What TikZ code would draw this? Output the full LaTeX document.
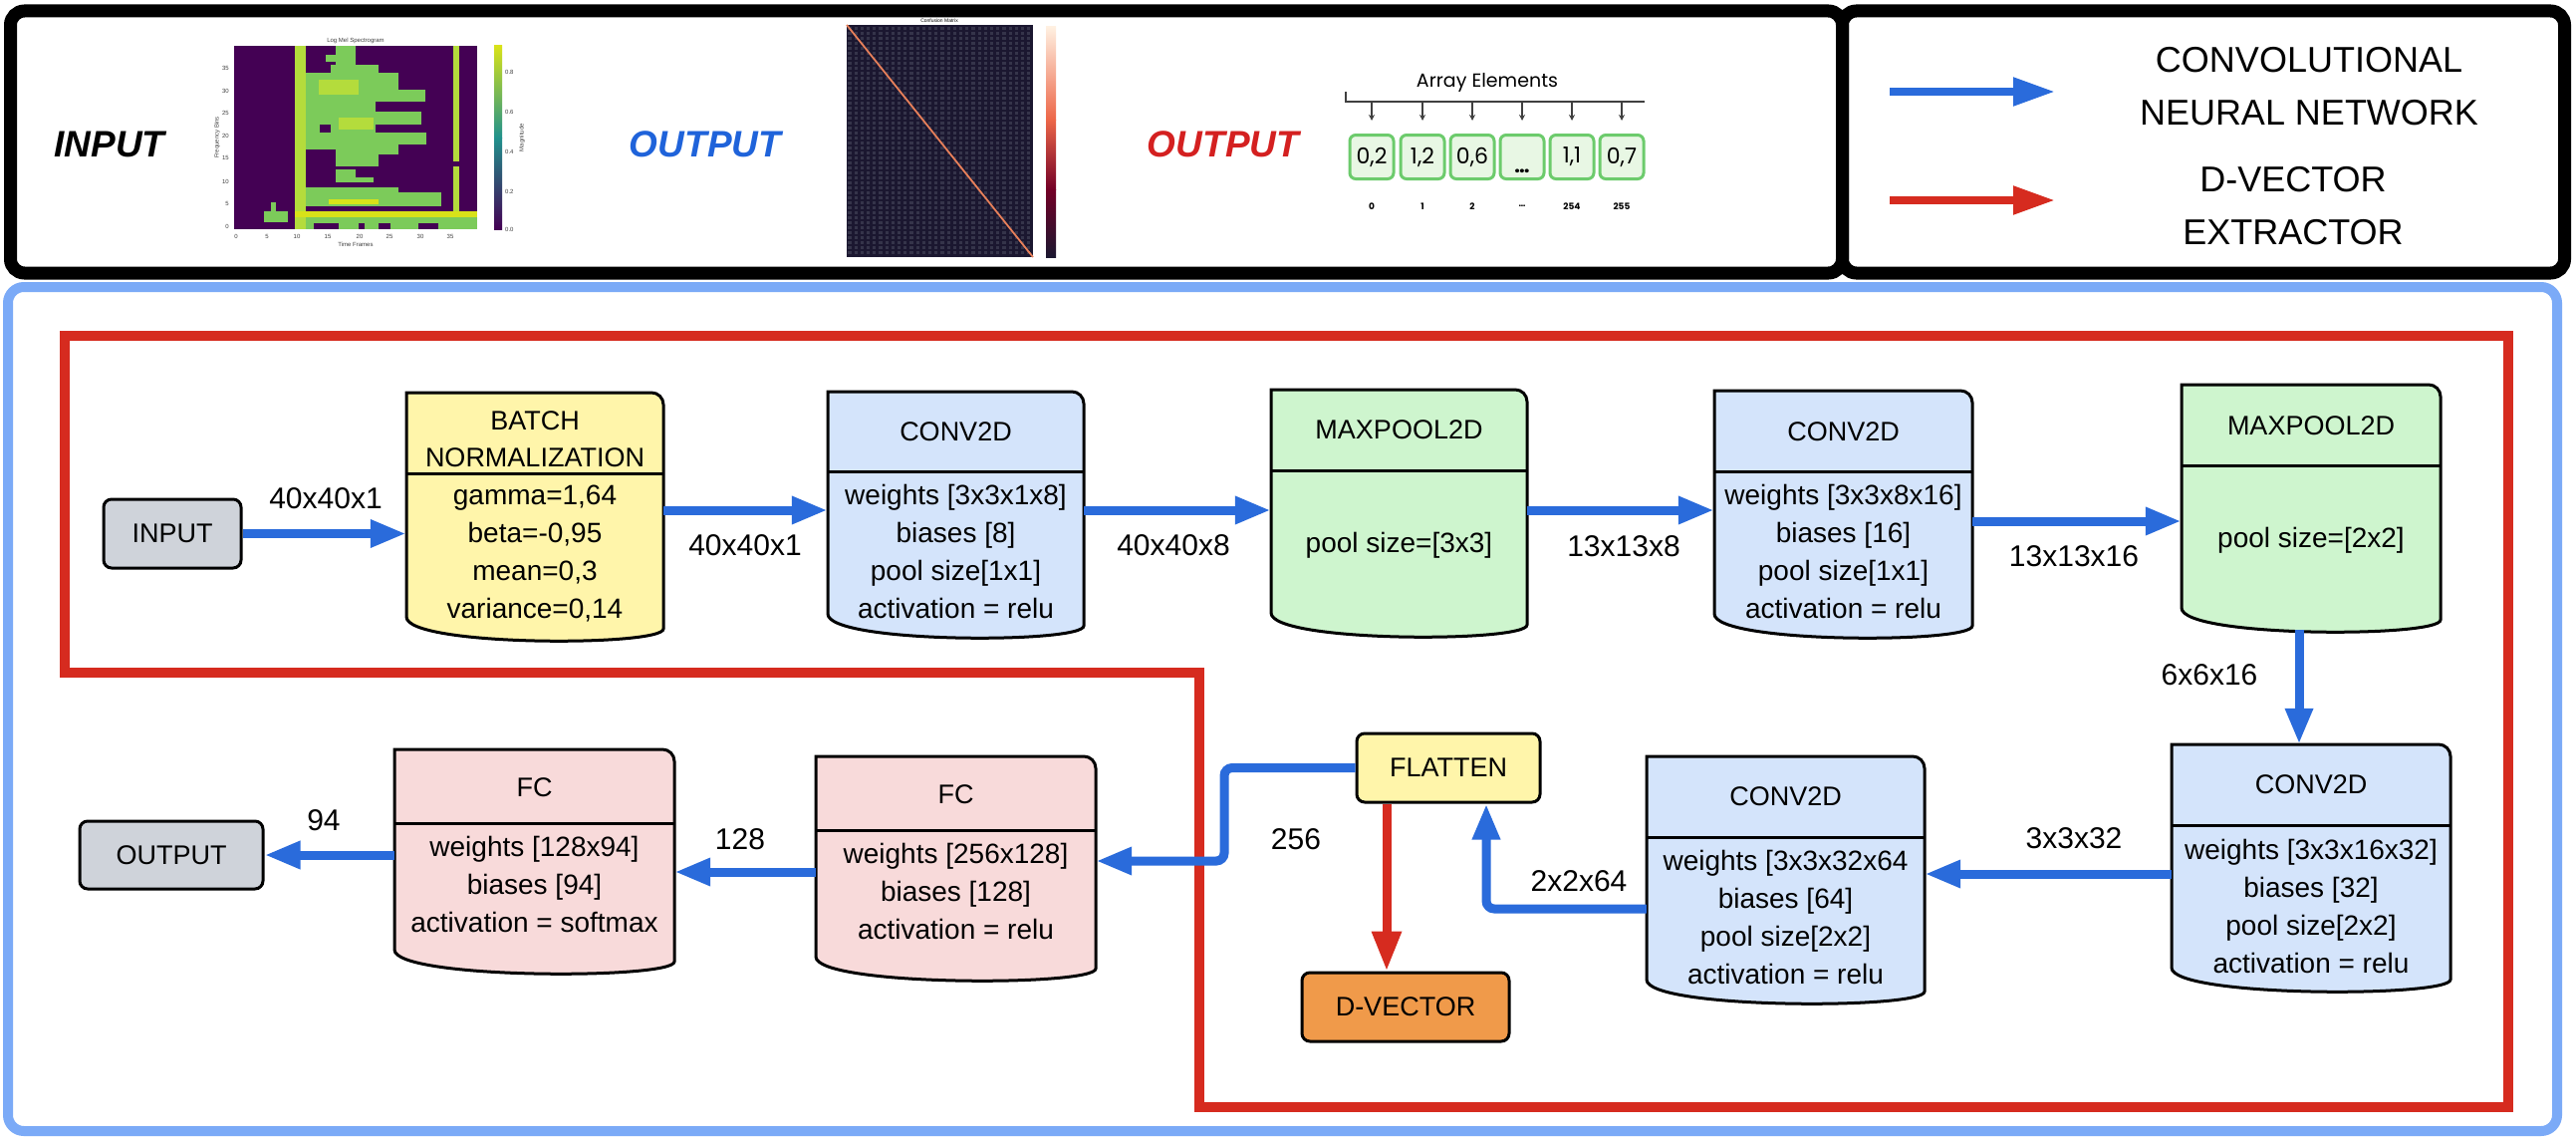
\documentclass[tikz,border=0pt]{standalone}
\usepackage{fontspec}
\setmainfont{Liberation Sans}
\newfontfamily\popfont{Poppins}
\usetikzlibrary{arrows.meta}
\definecolor{arrowblue}{HTML}{2A6BDB}
\definecolor{dred}{HTML}{D62B1F}
\definecolor{boxblue}{HTML}{7BAAF7}
\definecolor{grayfill}{HTML}{CFD3DA}
\definecolor{yellowfill}{HTML}{FFF5AA}
\definecolor{bluefill}{HTML}{D4E4FB}
\definecolor{greenfill}{HTML}{CEF5CE}
\definecolor{pinkfill}{HTML}{F8DADA}
\definecolor{orangefill}{HTML}{F09A4A}
\definecolor{vdark}{HTML}{440154}
\definecolor{vteal}{HTML}{21918C}
\definecolor{vgreen}{HTML}{7CCB5A}
\definecolor{vlg}{HTML}{B4DC3C}
\definecolor{vyel}{HTML}{D8E219}
\definecolor{cmdark}{HTML}{1B1730}
\definecolor{cmgray}{HTML}{35344A}
\definecolor{cmorange}{HTML}{E8805A}
\definecolor{cellgreen}{HTML}{6CCB6C}
\definecolor{cellfill}{HTML}{E8F7E4}
\definecolor{outblue}{HTML}{1F63DA}
\definecolor{outred}{HTML}{D42020}
\newcommand\layershape[7]{%
  \path[draw=black,line width=3pt,fill=#7]
    ({(#2+#3)/2},#4) [rounded corners=12pt] -- (#3,#4) -- (#3,#6) [sharp corners] .. controls (#3,{#6+30}) and (#2,{#6+30}) .. (#2,#6) -- (#2,#4) [rounded corners=12pt] -- cycle;
  \draw[line width=3pt] (#2,#5) -- (#3,#5);
  \node[inner sep=0pt,minimum width={(#3-#2)*1pt},minimum height={(#6+22-#4)*1pt}] (#1) at ({(#2+#3)/2},{(#4+#6+22)/2}) {};
}
\begin{document}
\begin{tikzpicture}[x=1pt,y=-1pt,
  hd/.style={font=\fontsize{27}{37}\selectfont,align=center,inner sep=0pt},
  body/.style={font=\fontsize{28}{38}\selectfont,align=center,inner sep=0pt},
  lab/.style={font=\fontsize{30}{36}\selectfont,inner sep=0pt},
  simple/.style={draw=black,line width=3pt,rounded corners=8pt,inner sep=0pt,font=\fontsize{27}{32}\selectfont},
  barrow/.style={draw=arrowblue,line width=9pt,-{Triangle[length=36pt,width=26pt]}},
  rarrow/.style={draw=dred,line width=9pt,-{Triangle[length=40pt,width=28pt]}},
  legtxt/.style={font=\fontsize{36}{53}\selectfont,align=center,inner sep=0pt},
  comic/.style={font=\fontsize{37}{40}\selectfont\bfseries\itshape,inner sep=0pt},
  tiny/.style={font=\fontsize{6}{7}\selectfont,inner sep=0pt,text=black!75},
  cell/.style={draw=cellgreen,fill=cellfill,line width=3pt,rounded corners=6pt,minimum width=44pt,minimum height=44pt,inner sep=0pt,font=\popfont\fontsize{22}{24}\selectfont},
  idx/.style={font=\popfont\bfseries\fontsize{9}{10}\selectfont,inner sep=0pt}
]
\useasboundingbox (0,0) rectangle (2586,1148);
\fill[white] (0,0) rectangle (2586,1148);

% ---------- top panel ----------
\draw[line width=13pt,rounded corners=14pt] (10.5,11) rectangle (1849.5,274);
\draw[line width=13pt,rounded corners=14pt] (1849.5,11) rectangle (2574.5,274);

\node[comic] (tin) at (110,145) {INPUT};
\node[comic,text=outblue] (tout1) at (708,145) {OUTPUT};
\node[comic,text=outred] (tout2) at (1228,145) {OUTPUT};

% spectrogram
\fill[vdark] (235,46) rectangle (479,230);
\fill[vlg] (296,46) rectangle (307,230);
\fill[vlg] (455,46) rectangle (461,162);
\fill[vlg] (455,167) rectangle (461,230);
\fill[vgreen] (337,46) rectangle (357,65);
\fill[vgreen] (327,55) rectangle (337,62);
\fill[vgreen] (332,65) rectangle (380,73);
\fill[vgreen] (307,73) rectangle (400,90);
\fill[vgreen] (307,90) rectangle (427,102);
\fill[vgreen] (307,102) rectangle (377,112);
\fill[vgreen] (307,112) rectangle (423,125);
\fill[vgreen] (307,125) rectangle (377,133);
\fill[vdark] (321,125) rectangle (332,134);
\fill[vgreen] (307,133) rectangle (428,145);
\fill[vgreen] (307,145) rectangle (400,150);
\fill[vgreen] (337,150) rectangle (400,155);
\fill[vgreen] (337,155) rectangle (380,167);
\fill[vgreen] (337,170) rectangle (357,183);
\fill[vgreen] (357,178) rectangle (375,183);
\fill[vgreen] (307,188) rectangle (400,193);
\fill[vgreen] (307,193) rectangle (443,207);
\fill[vlg] (320,80) rectangle (360,95);
\fill[vlg] (340,118) rectangle (375,130);
\fill[vyel] (330,200) rectangle (380,205);
\fill[vyel] (296,212) rectangle (479,218);
\fill[vgreen] (307,218) rectangle (479,230);
\fill[vdark] (315,224) rectangle (340,230);
\fill[vdark] (360,224) rectangle (366,230);
\fill[vdark] (380,224) rectangle (392,230);
\fill[vdark] (420,224) rectangle (440,230);
\fill[vgreen] (272,203) rectangle (277,212);
\fill[vgreen] (265,212) rectangle (289,223);
\shade[top color=vyel,bottom color=vteal] (496,46) rectangle (504,138);
\shade[top color=vteal,bottom color=vdark] (496,138) rectangle (504,230);
\node[tiny] (sptitle) at (357,41) {Log Mel Spectrogram};
\node[tiny] (spx) at (357,245) {Time Frames};
\node[tiny,rotate=90] (spy) at (218,138) {Frequency Bins};
\node[tiny,rotate=90] (spc) at (524,138) {Magnitude};
\foreach \v/\xx in {0/237,5/268,10/298,15/329,20/361,25/391,30/422,35/452}
  \node[tiny] (sx\v) at (\xx,237) {\v};
\foreach \v/\yy in {0/227,5/204,10/182,15/158,20/136,25/113,30/91,35/68}
  \node[tiny,anchor=east] (sy\v) at (230,\yy) {\v};
\foreach \n/\v/\yy in {0/0.0/230,1/0.2/192,2/0.4/152,3/0.6/112,4/0.8/72}
  \node[tiny,anchor=west] (sc\n) at (507,\yy) {\v};

% confusion matrix
\fill[cmdark] (850,25) rectangle (1037,258);
\foreach \i in {0,...,29}
  \draw[cmgray,line width=3.2pt,dash pattern=on 3pt off 2pt] ({853+\i*6.2},27) -- ({853+\i*6.2},257);
\draw[cmorange,line width=1.8pt] (850,25) -- (1037,258);
\shade[top color=white!60!orange!30,bottom color=cmorange!80!red] (1050,27) rectangle (1060,120);
\shade[top color=cmorange!80!red,bottom color=purple!60!black] (1050,120) rectangle (1060,190);
\shade[top color=purple!60!black,bottom color=cmdark] (1050,190) rectangle (1060,258);
\node[font=\fontsize{5}{6}\selectfont,inner sep=0pt] (cmt) at (943,21) {Confusion Matrix};

% array elements
\node[font=\popfont\fontsize{19}{22}\selectfont,inner sep=0pt] (arrt) at (1493,83) {Array Elements};
\coordinate (al0) at (1351,92);
\coordinate (al1) at (1351,102);
\coordinate (al2) at (1651,102);
\draw[line width=2pt,black!75] (al0) -- (al1) -- (al2);
\foreach \i/\xx/\t in {0/1377/{0,2},1/1428/{1,2},2/1478/{0,6},3/1528/{},4/1578/{1,1},5/1628/{0,7}}{
  \node[cell] (a\i) at (\xx,157.5) {\t};
  \draw[line width=1.5pt,black!75,-{Stealth[length=6pt,width=6pt]}] (a\i.north |- al1) -- ([yshift=13pt]a\i.north);
}
\node[font=\popfont\bfseries\fontsize{20}{22}\selectfont,inner sep=0pt] (adots) at (1528,172) {\ldots};
\foreach \i/\t in {0/0,1/1,2/2,3/\ldots,4/254,5/255}
  \node[idx] (ai\i) at (a\i.south |- 0,207) {\t};

% legend
\coordinate (lb1) at (1897,92);
\coordinate (lb2) at (2063,92);
\coordinate (lr1) at (1897,201);
\coordinate (lr2) at (2063,201);
\draw[draw=arrowblue,line width=8pt,-{Triangle[length=42pt,width=27pt]}] (lb1) -- (lb2);
\draw[draw=dred,line width=8pt,-{Triangle[length=42pt,width=27pt]}] (lr1) -- (lr2);
\node[legtxt] (lg1) at (2318,86.5) {CONVOLUTIONAL\\NEURAL NETWORK};
\node[legtxt] (lg2) at (2302,206.5) {D-VECTOR\\EXTRACTOR};

% ---------- bottom panel ----------
\draw[boxblue,line width=10pt,rounded corners=16pt] (8,288) rectangle (2567,1135);
\draw[dred,line width=10pt] (64.5,337) -- (2518,337) -- (2518,1111) -- (1204,1111) -- (1204,675) -- (64.5,675) -- cycle;

% layers
\layershape{bn}{408}{666}{394}{475}{619}{yellowfill}{}
\node[hd] (bnh) at (537,440.5) {BATCH\\NORMALIZATION};
\node[body] (bnb) at (537,555.5) {gamma=1,64\\beta=-0,95\\mean=0,3\\variance=0,14};

\layershape{conv1}{831}{1088}{393}{473}{616}{bluefill}{}
\node[hd] (c1h) at (959.5,433) {CONV2D};
\node[body] (c1b) at (959.5,553.5) {weights [3x3x1x8]\\biases [8]\\pool size[1x1]\\activation = relu};

\layershape{mp1}{1276}{1533}{391}{472}{615}{greenfill}{}
\node[hd] (m1h) at (1404.5,431) {MAXPOOL2D};
\node[body] (m1b) at (1404.5,547) {pool size=[3x3]};

\layershape{conv2}{1721}{1980}{392}{473}{616}{bluefill}{}
\node[hd] (c2h) at (1850.5,433) {CONV2D};
\node[body] (c2b) at (1850.5,553.5) {weights [3x3x8x16]\\biases [16]\\pool size[1x1]\\activation = relu};

\layershape{mp2}{2190}{2450}{386}{467}{610}{greenfill}{}
\node[hd] (m2h) at (2320,427) {MAXPOOL2D};
\node[body] (m2b) at (2320,542) {pool size=[2x2]};

\layershape{conv3}{2180}{2460}{747}{828}{971}{bluefill}{}
\node[hd] (c3h) at (2320,787) {CONV2D};
\node[body] (c3b) at (2320,909) {weights [3x3x16x32]\\biases [32]\\pool size[2x2]\\activation = relu};

\layershape{conv4}{1653}{1932}{759}{840}{983}{bluefill}{}
\node[hd] (c4h) at (1792.5,799) {CONV2D};
\node[body] (c4b) at (1792.5,920) {weights [3x3x32x64\\biases [64]\\pool size[2x2]\\activation = relu};

\layershape{fc1}{396}{677}{752}{826}{953}{pinkfill}{}
\node[hd] (f1h) at (536.5,790) {FC};
\node[body] (f1b) at (536.5,887.5) {weights [128x94]\\biases [94]\\activation = softmax};

\layershape{fc2}{819}{1100}{759}{833}{960}{pinkfill}{}
\node[hd] (f2h) at (959.5,797) {FC};
\node[body] (f2b) at (959.5,894) {weights [256x128]\\biases [128]\\activation = relu};

% simple nodes
\node[simple,fill=grayfill,minimum width=138pt,minimum height=69pt] (inp) at (173,535.5) {INPUT};
\node[simple,fill=grayfill,minimum width=184pt,minimum height=68pt] (outp) at (172,858) {OUTPUT};
\node[simple,fill=yellowfill,minimum width=184pt,minimum height=69pt] (flat) at (1454,770.5) {FLATTEN};
\node[simple,fill=orangefill,minimum width=208pt,minimum height=69pt] (dvec) at (1411,1010.5) {D-VECTOR};

% connectors
\draw[barrow] (inp.east) -- (bn.west |- inp.east);
\draw[barrow] (bn.east |- 0,512) -- (conv1.west |- 0,512);
\draw[barrow] (conv1.east |- 0,512) -- (mp1.west |- 0,512);
\draw[barrow] (mp1.east |- 0,512) -- (conv2.west |- 0,512);
\draw[barrow] (conv2.east |- 0,523) -- (mp2.west |- 0,523);
\draw[barrow] ([xshift=-12pt]mp2.south) -- ([xshift=-12pt]conv3.north);
\draw[barrow] (conv3.west |- 0,877) -- (conv4.east |- 0,877);
\draw[barrow,rounded corners=8pt] (conv4.west |- 0,912) -| ([xshift=38pt]flat.south);
\coordinate (fbend) at (1229,770.5);
\draw[barrow,rounded corners=8pt] (flat.west) -- (fbend) |- (fc2.east |- 0,864);
\draw[barrow] (fc2.west |- 0,875) -- (fc1.east |- 0,875);
\draw[barrow] (fc1.west |- 0,858) -- (outp.east);
\draw[rarrow] ([xshift=-62pt]flat.south) -- ([xshift=-19pt]dvec.north);

% labels
\node[lab] (l1) at (327,500) {40x40x1};
\node[lab] (l2) at (748,547) {40x40x1};
\node[lab] (l3) at (1178,547) {40x40x8};
\node[lab] (l4) at (1630,548) {13x13x8};
\node[lab] (l5) at (2082,558) {13x13x16};
\node[lab] (l6) at (2218,677) {6x6x16};
\node[lab] (l7) at (2082,841) {3x3x32};
\node[lab] (l8) at (1585,884) {2x2x64};
\node[lab] (l9) at (1301,842) {256};
\node[lab] (l10) at (743,842) {128};
\node[lab] (l11) at (325,823) {94};
\end{tikzpicture}
\end{document}
